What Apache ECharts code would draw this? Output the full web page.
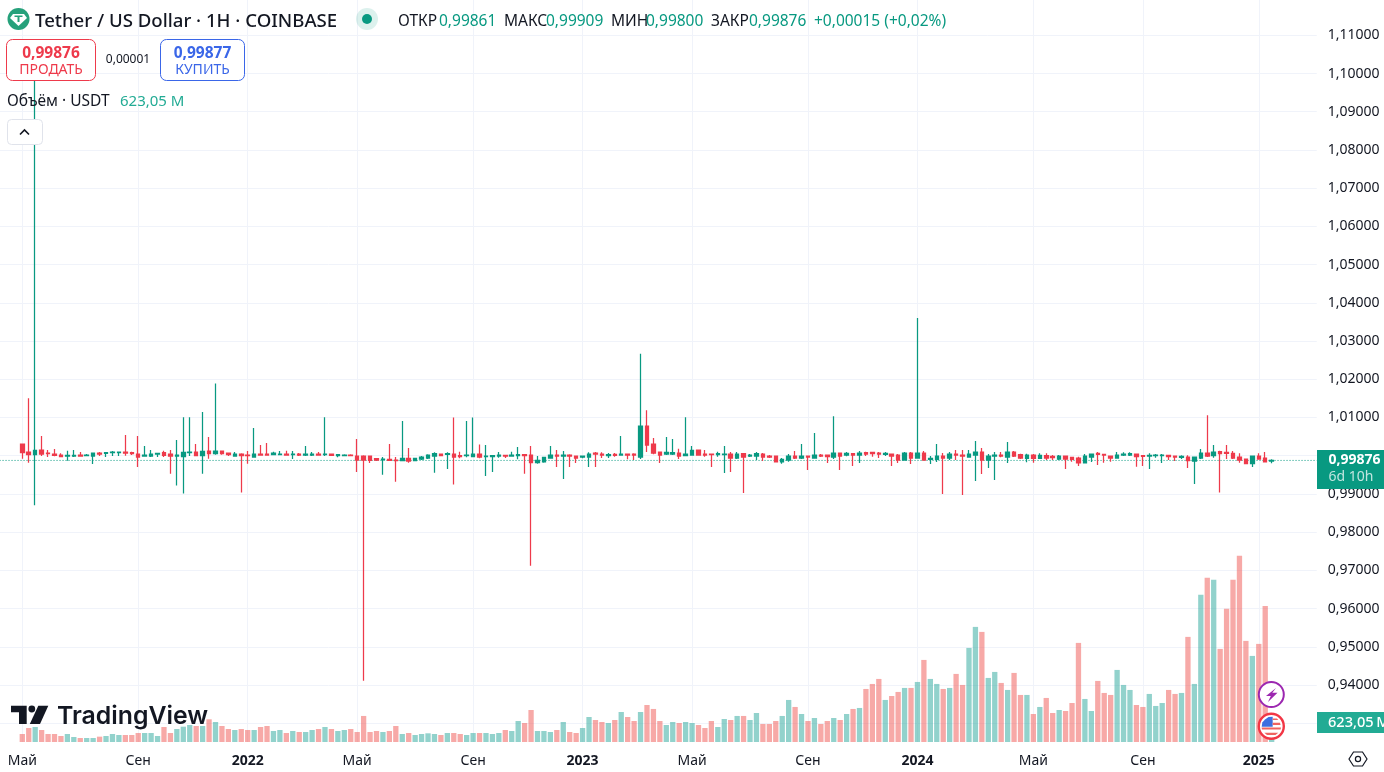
<!DOCTYPE html>
<html><head><meta charset="utf-8">
<style>html,body{margin:0;padding:0;background:#fff;overflow:hidden}#c{width:1384px;height:772px}</style>
<script src="https://cdn.jsdelivr.net/npm/echarts@6/dist/echarts.min.js"></script>
</head><body><div id="c"></div>
<script>
const tickIndexes=[0,18,35,52,70,87,104,122,139,157,174,192];
const tickLabels=['Май','Сен','2022','Май','Сен','2023','Май','Сен','2024','Май','Сен','2025'];
const opens=[1.00305,1.00096,1.00026,1.00148,1.0007,1.00044,1.00017,.99991,.99991,1.00017,1.0,.99991,1.0007,1.00061,1.00078,1.00078,1.00096,1.00078,1.00044,.99991,
.99991,1.00044,1.00078,1.00044,.99991,.99974,1.00078,1.00096,1.0,1.00122,1.00052,1.00122,1.0007,.99991,1.00044,1.00017,.99965,1.00044,1.00044,1.00026,
1.00026,1.00044,1.00026,1.00044,1.00017,1.00017,1.00044,1.00026,1.00044,1.0,1.0,1.00017,.99991,.99991,.99991,.99922,.99896,.99904,.99887,.9987,
.9993,.9987,.99913,.99939,.99991,1.00044,1.00035,1.00044,1.0,1.0,.99974,1.00044,.99974,.99974,.99991,1.00009,.99991,1.0,1.00026,1.00017,
.99817,.99835,.99939,1.00017,.99991,1.00017,.99991,.99965,.99965,1.0007,1.00044,1.0,1.00035,1.00017,1.00044,1.00044,.99965,1.00774,1.00304,1.00096,
1.00044,1.00044,1.0007,1.0,1.00017,1.00148,1.00044,1.00044,1.00026,1.00026,1.00044,.99939,1.00052,.99991,.99991,1.00044,.99991,.99991,.99835,.99887,
.99991,.99939,.99991,.99939,1.00017,1.00017,.99965,1.0007,1.00017,1.00052,1.00017,1.00078,1.00087,1.0007,1.00035,1.00044,1.00017,.99887,1.0007,.99939,
1.0007,.99904,.99904,.99991,.99939,1.00044,1.00017,.99965,1.00017,1.00096,.99887,.99991,1.00017,.99965,1.00096,1.00026,.9993,1.00017,.9993,1.0,
.99983,.99913,.99991,.99957,.99939,.99809,.99965,1.00061,1.00035,.99991,.99939,1.00017,1.00017,1.00044,1.0,.99991,1.0,1.0,1.00009,.99991,
.99957,.99965,.99861,.99939,1.0007,1.0,1.00104,1.00087,1.00061,.99965,.99913,.99791,.99991,.99939,.99861];
const highs=[1.00305,1.01505,1.1,1.00513,1.00148,1.00174,1.00061,1.0013,1.00148,1.00096,1.00044,1.0007,1.00096,1.00087,1.00122,1.00104,1.0054,1.00104,1.00513,1.00252,
1.00148,1.0007,1.0013,1.00148,1.00409,1.01009,1.01009,1.00305,1.0114,1.00487,1.01888,1.00139,1.0007,1.00096,1.00061,1.00122,1.00722,1.00278,1.0033,1.00104,
1.00122,1.0013,1.00122,1.0007,1.00252,1.00096,1.00096,1.01009,1.00052,1.00044,1.00035,1.00035,1.00435,1.00009,.99991,.99939,.99965,1.00304,.99965,1.00905,
1.002,.99948,.99991,1.00035,1.00087,1.00044,1.00087,1.01,1.00104,1.00905,1.01,1.00296,1.00278,1.00017,1.00096,1.00017,1.00104,1.00226,1.00044,1.00252,
.99991,.99974,1.00252,1.00148,1.00122,1.00035,.99991,1.0,1.00087,1.00096,1.00087,1.0007,1.0007,1.00513,1.00044,1.00061,1.02665,1.01192,1.00461,1.00096,
1.00487,1.00435,1.00183,1.01009,1.00252,1.00165,1.00148,1.00044,1.00104,1.00252,1.00096,1.00096,1.0007,1.00044,1.00096,1.0007,1.00017,.99991,.99939,1.00044,
1.00122,1.00304,.99991,1.00592,1.00044,1.00017,1.01035,1.0007,1.00096,1.00061,1.00122,1.00104,1.00096,1.00096,1.00096,1.00044,1.00044,1.00096,1.00096,1.03606,
1.00122,.99991,1.00304,1.0007,1.00096,1.00148,1.00148,1.00148,1.00383,1.002,1.00044,1.00096,1.00096,1.00357,1.00122,1.00052,1.00052,1.00044,1.00061,1.00061,
1.00017,1.00017,.99991,.99974,.99974,1.00044,1.00044,1.00096,1.00052,.99991,1.00096,1.00087,1.00087,1.00044,1.00017,1.00061,1.00044,1.00044,1.00009,.99991,
1.00009,1.00009,.99965,1.00174,1.01061,1.00278,1.00131,1.00278,1.00122,1.00061,.99913,.99991,1.00061,1.00096,.99909];
const lows=[.99922,.99817,.987,.99991,.99965,.99983,.99957,.9987,.99965,.99983,.99983,.99783,.99991,.99965,.99991,.99991,1.0,1.00017,.99704,.99974,
.99965,.99965,.99965,.9953,.99217,.99008,.99991,1.0,.9953,.99922,1.00026,1.00026,.99991,.99991,.99034,.99791,.99965,1.00017,1.00009,1.00017,
1.00017,1.00017,.99913,.99991,.99991,.99991,1.00009,.99991,.99991,.99957,.99983,.99983,.99574,.9411,.99809,.99861,.99504,.99861,.99321,.9987,
.99817,.99861,.99887,.99913,.99556,1.0,.99652,.99243,.9993,.99957,.99957,.9993,.99469,.99574,.99948,.99939,.99991,.99904,.9953,.9712,
.99791,.99817,.99939,.99704,.99391,.99704,.99809,.9993,.99704,.99704,.99939,.99939,.99974,1.0,.99904,.99887,.99913,1.00096,1.00035,.99809,
1.00017,1.00017,.99913,1.0,1.0,1.0,.99974,.99704,.99974,.99548,.99574,.99913,.99026,.99965,.99887,.99861,.99939,.99835,.99791,.99843,
.99913,.99913,.99626,.99939,.99965,.99809,.99913,.99626,.99983,.9973,.99809,.99991,.99974,.99939,.99991,.9973,.99809,.99878,.99783,.9993,
.99887,.99783,.99835,.98999,.99887,.99887,.98973,.99965,.99339,.99522,.99678,.99365,.99957,.99809,.99965,.99913,.99826,.99817,.99913,.99887,
.99887,.99887,.99652,.99843,.9973,.99809,.99835,.99756,.99817,.99843,.9993,.99991,.99991,.99713,.9973,.99652,.99948,.99809,.99887,.99861,
.99913,.99678,.9926,.99913,.99965,.99948,.99034,.99913,.99913,.99817,.99791,.99704,.99896,.99826,.998];
const closes=[1.00078,1.00026,1.00139,1.00044,1.00052,1.00009,.99974,1.00009,1.00009,.99991,1.00017,1.0007,1.00044,1.00078,1.00096,1.00096,1.0007,1.00052,.99965,1.00017,
1.00044,1.00061,1.00009,.99991,1.00017,1.00087,1.00096,1.0,1.00113,1.00052,1.00122,1.00052,1.00026,1.00044,1.0,1.0,1.00044,1.00017,1.00017,1.0007,
1.00044,1.00017,1.00044,1.00017,1.00044,1.00044,1.00017,1.00044,1.00009,1.00026,1.00017,1.0,.99887,.99887,.99878,.99887,.99913,.99878,.9987,.9993,
.99861,.9993,.99965,1.00017,1.00052,1.0,1.00052,.99965,.99974,1.00017,1.00044,.99965,.99991,1.0,1.00017,.99991,1.00017,1.00026,1.0,.99817,
.99878,.99957,1.00017,.99991,1.00017,.99991,.99939,.99991,1.00044,1.00044,1.00017,1.00026,1.00009,1.00044,1.00017,1.00017,1.00774,1.00278,1.0007,1.00017,
1.00087,1.00078,.99991,1.00044,1.00139,1.00017,1.00017,1.00026,1.00052,1.00044,.99939,1.00044,.99965,1.00017,1.00052,.99965,.99965,.99835,.99904,.99991,
.99939,.99991,.99965,1.00017,.99991,.99974,1.0007,.99991,1.00061,1.00017,1.0007,1.00044,1.00052,1.00044,1.00061,.99991,.99887,1.0007,.99939,1.0007,
.99887,.9993,.99991,.99939,1.00044,1.00017,.99991,1.00044,1.00096,.99887,.99991,1.00017,.99991,1.00096,.99991,.99939,1.00017,.9993,1.00009,.99939,
.99948,.99991,.99913,.99904,.99809,.99991,1.00044,1.00035,1.00017,.99939,1.00017,1.00044,1.00052,.99974,.99983,1.00009,1.00017,1.00017,.99974,.99965,
.99983,.9987,.99965,1.0007,.99991,1.00096,1.00052,1.00061,.99939,.99887,.99791,.99991,.99913,.99835,.99876];
const volumesM=[249,436,467,374,249,249,187,249,156,125,125,125,166,187,249,218,218,218,280,280,
280,187,467,280,405,477,529,498,498,706,623,498,405,374,405,374,374,467,498,343,
374,280,343,311,311,374,405,467,405,343,374,405,311,810,311,343,311,343,498,249,
280,218,249,270,249,218,280,280,249,218,280,280,280,249,280,374,343,654,592,996,
343,343,311,374,623,311,280,436,778,685,623,592,685,934,778,654,934,1152,1028,654,
529,623,592,623,592,529,436,654,467,716,685,810,810,685,903,561,561,654,810,1308,
1090,872,654,747,561,654,747,685,872,1028,1059,1650,1806,1962,1308,1432,1557,1682,1682,1868,
2553,1962,1806,1650,1682,2118,1775,2927,3581,3425,1993,2180,1837,1619,2149,1464,1464,872,1090,1370,
903,996,965,1214,3083,1339,965,1900,1526,1464,2242,1775,1619,1152,1090,1495,1121,1214,1619,1495,
1526,3270,1806,4578,5107,5045,2896,4142,5045,5792,3145,2678,3052,4235,623.05];
const lastPrice=0.99876;
const priceTicks={min:0.93,max:1.12,step:0.01};

const leadBlanks=4, tailBlanks=7;
const total=leadBlanks+opens.length+tailBlanks;
const categories=Array.from({length:total},()=> '');
tickIndexes.forEach((t,k)=>{categories[t+leadBlanks]=tickLabels[k];});
const pad=a=>Array(leadBlanks).fill('-').concat(a);
const candleData=pad(opens.map((o,i)=>[o,closes[i],lows[i],highs[i]]));
const UP='#089981',DOWN='#ee3a4b',BLUE='#3a66e8',INK='#131722',GRID='#f0f3fa';
const volData=pad(volumesM.map((v,i)=>({value:v,itemStyle:{color:closes[i]>=opens[i]?'rgba(38,166,154,.5)':'rgba(239,83,80,.5)'}})));
const FF='"Noto Sans"';
const t=(text,x,y,font,fill,align)=>({type:'text',z:50,silent:true,style:{text,x,y:y+1.5,font:font+' '+FF,fill:fill||INK,textAlign:align||'left',textVerticalAlign:'middle'}});
const btn=(x,y,w,h,r,stroke)=>({type:'rect',z:40,silent:true,shape:{x,y,width:w,height:h,r},style:{fill:'#fff',stroke,lineWidth:1}});
const poly=(pts,fill,z)=>({type:'polygon',z:z||50,silent:true,shape:{points:pts},style:{fill}});
const xCommon={type:'category',data:categories,boundaryGap:false,axisLine:{show:false},axisTick:{show:false},
  splitLine:{show:true,interval:(i,v)=>v!=='',lineStyle:{color:GRID,width:1}}};
const option={
  animation:false,backgroundColor:'#fff',
  grid:[{left:-3.46,width:1320.2,top:-2.9,height:726.1,outerBoundsMode:'none'},{left:-3.46,width:1320.2,top:517,height:225,outerBoundsMode:'none'}],
  xAxis:[Object.assign({gridIndex:0,axisLabel:{show:false}},xCommon),
    Object.assign({gridIndex:1,axisLabel:{show:true,margin:12,interval:(i,v)=>v!=='',fontFamily:FF,fontSize:14,color:INK,
      formatter:v=>/^\d+$/.test(v)?'{y|'+v+'}':v,rich:{y:{fontFamily:FF,fontSize:14,fontWeight:'bold',color:INK}}}},xCommon)],
  yAxis:[{gridIndex:0,type:'value',position:'right',min:priceTicks.min,max:priceTicks.max,interval:priceTicks.step,
      axisLine:{show:false},axisTick:{show:false},splitLine:{lineStyle:{color:GRID,width:1}},
      axisLabel:{margin:11,fontFamily:FF,fontSize:14,color:INK,formatter:v=>v>1.115?'':v.toFixed(5).replace('.',',')}},
    {gridIndex:1,type:'value',min:0,max:7000,show:false,splitLine:{show:false}}],
  series:[
    {type:'bar',name:'Объём',xAxisIndex:1,yAxisIndex:1,barWidth:5.3,data:volData,z:2,silent:true},
    {type:'line',name:'Последняя цена',xAxisIndex:0,yAxisIndex:0,data:categories.map(()=>lastPrice),symbol:'none',z:3,silent:true,
      lineStyle:{color:UP,type:[1,2],width:1}},
    {type:'candlestick',name:'USDT/USD',xAxisIndex:0,yAxisIndex:0,barWidth:4,data:candleData,z:4,silent:true,
      itemStyle:{color:UP,color0:DOWN,borderColor:UP,borderColor0:DOWN,borderWidth:1.25}}
  ],
  graphic:[
    {type:'circle',z:50,silent:true,shape:{cx:18.5,cy:19,r:11},style:{fill:'#26a17b'}},
    poly([[13,14],[24,14],[27,18],[18.5,26],[10,18]],'#fff'),
    poly([[14.5,15.5],[22.5,15.5],[22.5,17],[19.5,17],[19.5,22],[17.5,22],[17.5,17],[14.5,17]],'#26a17b',51),
    t('Tether / US Dollar · 1H · COINBASE',35,20,'500 18.6px'),
    {type:'circle',z:50,silent:true,shape:{cx:367,cy:19,r:11},style:{fill:'rgba(8,153,129,.14)'}},
    {type:'circle',z:51,silent:true,shape:{cx:367,cy:19,r:5},style:{fill:UP}},
    t('ОТКР',398,20,'15.5px'),t('0,99861',439,20,'15.5px',UP),
    t('МАКС',504,20,'15.5px'),t('0,99909',546,20,'15.5px',UP),
    t('МИН',611,20,'15.5px'),t('0,99800',646,20,'15.5px',UP),
    t('ЗАКР',711,20,'15.5px'),t('0,99876',749,20,'15.5px',UP),
    t('+0,00015 (+0,02%)',814,20,'15.5px',UP),
    btn(6.5,39.5,89,41,6,DOWN),
    t('0,99876',51,52,'bold 15.5px',DOWN,'center'),t('ПРОДАТЬ',51,69,'14px',DOWN,'center'),
    t('0,00001',128,58.5,'12px',INK,'center'),
    btn(160.5,39.5,84,41,6,BLUE),
    t('0,99877',202.5,52,'bold 15.5px',BLUE,'center'),t('КУПИТЬ',202.5,69,'14px',BLUE,'center'),
    t('Объём · USDT',7,100.5,'15.5px'),t('623,05 M',120,100.5,'15px','#22ab94'),
    btn(7.5,119.5,35,25,4,'#e0e3eb'),
    {type:'polyline',z:50,silent:true,shape:{points:[[20,134.5],[24.5,130],[29,134.5]]},style:{stroke:INK,lineWidth:1.6,fill:null}},
    poly([[11,705.7],[26.7,705.7],[26.7,724],[19,724],[19,712.3],[11,712.3]],INK,30),
    {type:'circle',z:30,silent:true,shape:{cx:31.8,cy:709,r:3.4},style:{fill:INK}},
    poly([[38.3,705.7],[48.3,705.7],[40,724],[29.8,724]],INK,30),
    {type:'text',z:30,silent:true,style:{text:'TradingView',x:57,y:717,font:'600 24.8px Inter',fill:INK,textAlign:'left',textVerticalAlign:'middle'}},
    {type:'rect',z:45,silent:true,shape:{x:1317,y:450,width:67,height:39},style:{fill:UP}},
    t('0,99876',1354.5,459,'bold 14px','#fff','center'),t('6d 10h',1351,476,'14px','rgba(255,255,255,.75)','center'),
    {type:'rect',z:45,silent:true,shape:{x:1317,y:712,width:67,height:21},style:{fill:'#22ab94'}},
    t('623,05\u2009M',1328,721,'500 14.6px','#fff'),
    {type:'circle',z:46,silent:true,shape:{cx:1271.3,cy:694.5,r:12.5},style:{fill:'#fff',stroke:'#9c27b0',lineWidth:2}},
    poly([[1276,688],[1266,696],[1270.8,696],[1268,702],[1277.5,692.8],[1272.3,692.8]],'#9c27b0',47),
    {type:'circle',z:46,silent:true,shape:{cx:1271.3,cy:726.3,r:12.5},style:{fill:'#fff',stroke:'#f23645',lineWidth:2.4}},
    poly([[1265,719.5],[1268.5,717],[1272.7,716.7],[1272.7,726.7],[1261.7,726.7],[1262.3,722.5]],'#3d6fe0',47),
    poly([[1272.7,718.5],[1277,718.5],[1278.3,720],[1272.7,720]],'#ef6461',47),
    poly([[1272.7,722.7],[1280,722.7],[1280.6,725],[1272.7,725]],'#ef6461',47),
    poly([[1261.6,727.4],[1281,727.4],[1280.6,729.4],[1262,729.4]],'#ef6461',47),
    poly([[1264.3,732.7],[1278.3,732.7],[1275.5,735],[1267,735]],'#ef6461',47),
    {type:'polygon',z:50,silent:true,shape:{points:[[1349,759],[1353.5,752],[1362.5,752],[1367,759],[1362.5,766],[1353.5,766]]},style:{fill:'#fff',stroke:INK,lineWidth:1.2}},
    {type:'circle',z:51,silent:true,shape:{cx:1358,cy:759,r:2.6},style:{fill:'#fff',stroke:INK,lineWidth:1.2}}
  ]
};
echarts.init(document.getElementById('c'),null,{renderer:'canvas',width:1384,height:772}).setOption(option);
</script></body></html>
